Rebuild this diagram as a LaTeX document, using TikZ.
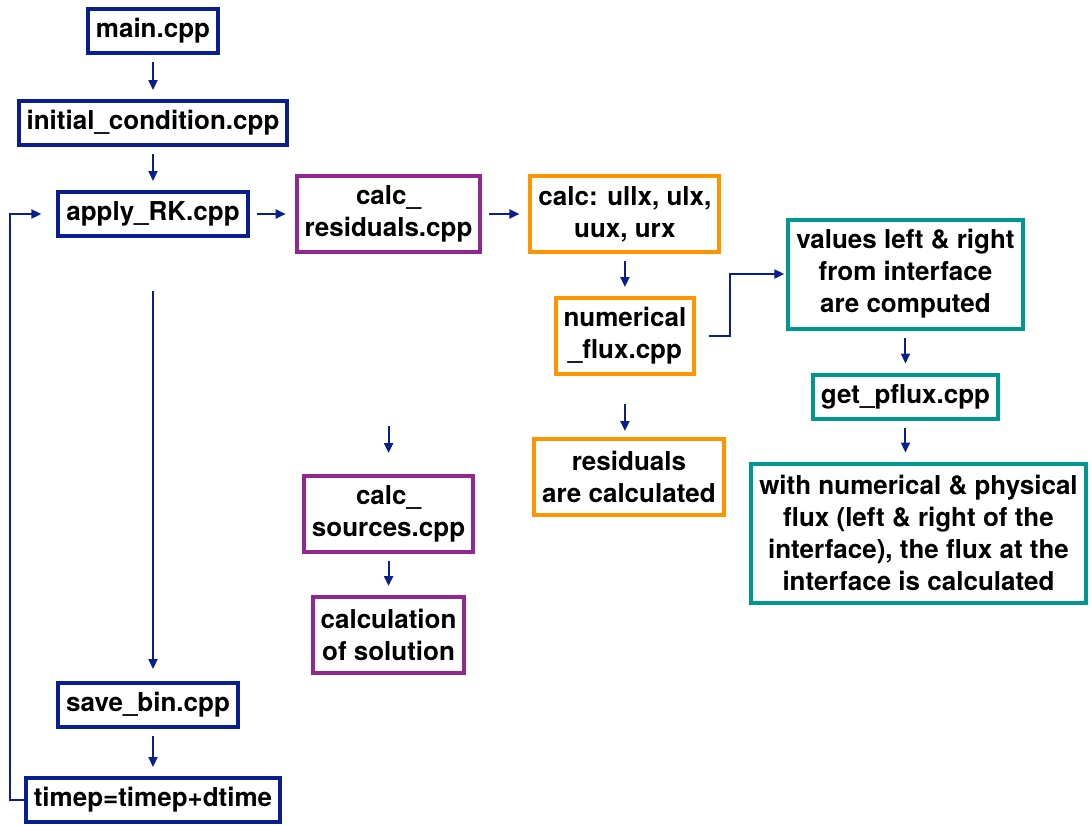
\documentclass[tikz,border=0pt]{standalone}
\usepackage{fontspec}
\setmainfont{TeX Gyre Heros}
\usepackage{tikz}
\usetikzlibrary{arrows.meta,positioning}
\definecolor{navy}{RGB}{8,30,145}
\definecolor{purp}{RGB}{146,39,143}
\definecolor{orng}{RGB}{255,147,0}
\definecolor{teal}{RGB}{0,150,145}

\begin{document}
\begin{tikzpicture}[
  x=1pt, y=1pt,
  every node/.style={draw, line width=4pt, fill=white, inner xsep=8pt, inner ysep=2pt,
    font=\fontsize{26}{32}\selectfont\bfseries, align=center, minimum height=44pt},
  mainbox/.style={draw=navy},
  resbox/.style={draw=purp},
  fluxbox/.style={draw=orng},
  pfluxbox/.style={draw=teal},
  two/.style={minimum height=76pt},
  arr/.style={-{Triangle[length=10pt,width=9pt]}, line width=2pt, draw=navy,
    shorten <=7pt, shorten >=9pt}
]
\useasboundingbox (0,0) rectangle (1091,-825);

\node[mainbox] (main) at (153,-31) {main.cpp};
\node[mainbox, below=44pt of main] (init) {initial\_condition.cpp};
\node[mainbox, below=43pt of init] (apply) {apply\_RK.cpp};
\node[resbox, two, right=45pt of apply] (calcres) {calc\_\\residuals.cpp};
\node[fluxbox, two, right=46pt of calcres] (ullx) {calc: ullx, ulx,\\uux, urx};
\node[fluxbox, two, below=42pt of ullx] (numflux) {numerical\\\_flux.cpp};
\node[fluxbox, two, below=61pt of numflux, xshift=4pt] (resid) {residuals\\are calculated};
\node[pfluxbox, minimum height=109pt, right=90pt of numflux, yshift=62pt] (values) {values left \& right\\from interface\\are computed};
\node[pfluxbox, below=42pt of values] (getp) {get\_pflux.cpp};
\node[pfluxbox, minimum height=139pt, below=41pt of getp, xshift=13pt] (withflux) {with numerical \& physical\\flux (left \& right of the\\interface), the flux at the\\interface is calculated};
\node[resbox, two, below=220pt of calcres] (calcsrc) {calc\_\\sources.cpp};
\node[resbox, two, below=41pt of calcsrc] (calcsol) {calculation\\of solution};
\node[mainbox, below=443pt of apply, xshift=-5pt] (savebin) {save\_bin.cpp};
\node[mainbox, below=47pt of savebin, xshift=5pt] (timep) {timep=timep+dtime};

\draw[arr] (main) -- (init);
\draw[arr] (init) -- (apply);
\draw[arr] (apply) -- (calcres);
\draw[arr] (calcres) -- (ullx);
\draw[arr] (ullx) -- (numflux);
\draw[arr, shorten <=28pt, shorten >=6pt] (numflux.south) -- (numflux.south |- resid.north);
\draw[arr, shorten <=13pt, shorten >=2pt] (numflux.east) -- ++(34pt,0) |- (values.west);
\draw[arr] (values) -- (getp);
\draw[arr] (getp.south) -- (getp.south |- withflux.north);
\draw[arr, shorten <=172pt, shorten >=21pt] (calcres) -- (calcsrc);
\draw[arr] (calcsrc) -- (calcsol);
\draw[arr, shorten <=53pt, shorten >=12pt] (apply.south) -- (apply.south |- savebin.north);
\draw[arr] (savebin.south -| timep.north) -- (timep.north);
\draw[arr, shorten <=0pt, shorten >=15pt] (timep.west) -- ++(-14pt,0) |- (apply.west);
\end{tikzpicture}
\end{document}
